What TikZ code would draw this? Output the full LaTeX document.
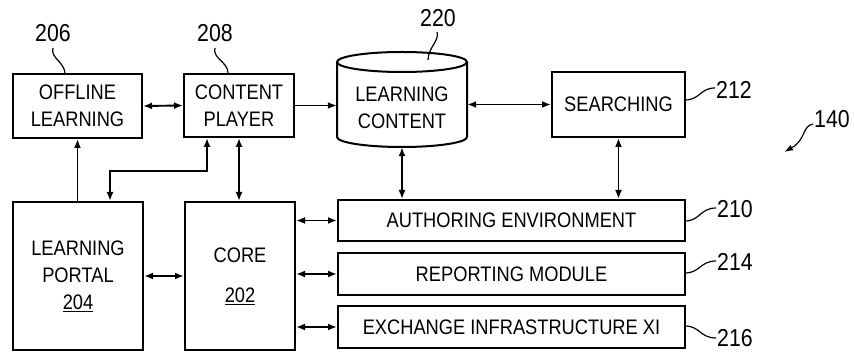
\documentclass[tikz,border=0pt]{standalone}
\usepackage{fontspec}
\setmainfont{Liberation Sans}[FakeStretch=0.87]
\usetikzlibrary{arrows.meta}
\begin{document}
\begin{tikzpicture}[x=1pt,y=-1pt,
  box/.style={draw, line width=2pt, inner sep=0pt, align=center, font=\fontsize{21}{27}\selectfont},
  txt/.style={inner sep=0pt, align=center, font=\fontsize{21}{27}\selectfont},
  lbl/.style={inner sep=0pt, font=\fontsize{24.5}{24}\selectfont},
  tip/.tip={Latex[length=9pt,width=7pt]},
  conn/.style={line width=1.9pt, tip-tip},
  conr/.style={line width=1.9pt, -tip},
  lead/.style={line width=1.2pt}]
\useasboundingbox (0,0) rectangle (854,352);
% boxes
\node[box, minimum width=129pt, minimum height=64pt] (offline) at (77.5,106) {OFFLINE\\LEARNING};
\node[box, minimum width=110pt, minimum height=63pt] (player) at (239,105.5) {CONTENT\\PLAYER};
\node[box, minimum width=130pt, minimum height=148pt] (portal) at (78,276) {LEARNING\\PORTAL\\\underline{204}};
\node[box, minimum width=110pt, minimum height=148pt] (core) at (240,276) {CORE\\[13pt]\underline{202}};
\node[box, minimum width=133pt, minimum height=65pt] (search) at (618.5,104.5) {SEARCHING};
\node[box, minimum width=347pt, minimum height=41pt] (author) at (511.5,220.5) {AUTHORING ENVIRONMENT};
\node[box, minimum width=347pt, minimum height=42pt] (report) at (511.5,274) {REPORTING MODULE};
\node[box, minimum width=347pt, minimum height=42pt] (xi) at (511.5,327) {EXCHANGE INFRASTRUCTURE XI};
% cylinder
\node[inner sep=0pt, minimum width=130pt, minimum height=95pt] (lc) at (402,99.5) {};
\draw[line width=2pt] (402,62) ellipse [x radius=65, y radius=10];
\draw[line width=2pt] (337,62) -- (337,137) arc [start angle=180, end angle=0, x radius=65, y radius=10] -- (467,62);
\node[txt] (lct) at (402,108) {LEARNING\\CONTENT};
% connectors
\draw[conn] (offline.east) -- (player.west);
\draw[conr] (player.east) -- (player.east -| lc.west);
\draw[conn] (search.west -| lc.east) -- (search.west);
\draw[conr] (offline.south |- portal.north) -- (offline.south);
\draw[conn] ([xshift=-32pt]player.south) -- ++(0,33) -| ([xshift=32pt]portal.north);
\draw[conn] (player.south) -- (player.south |- core.north);
\draw[conn] (portal.east) -- (portal.east -| core.west);
\draw[conn] (core.east |- author.west) -- (author.west);
\draw[conn] (core.east |- report.west) -- (report.west);
\draw[conn] (core.east |- xi.west) -- (xi.west);
\draw[conn] (lc.south) -- (lc.south |- author.north);
\draw[conn] (search.south) -- (search.south |- author.north);
% labels
\node[lbl] (n206) at (53,33) {206};
\node[lbl] (n208) at (215,33) {208};
\node[lbl] (n220) at (438,18) {220};
\node[lbl] (n212) at (734,90) {212};
\node[lbl] (n210) at (735,209) {210};
\node[lbl] (n214) at (735,262) {214};
\node[lbl] (n216) at (735,338) {216};
\node[lbl] (n140) at (832,119) {140};
\draw[lead] (53,48) .. controls (50,58) and (65,62) .. (65,74);
\draw[lead] (215,48) .. controls (212,58) and (228,62) .. (228,73);
\draw[lead] (437,32) .. controls (440,40) and (428,48) .. (428,60);
\draw[lead] (685,100) .. controls (700,100) and (700,88) .. (715,88);
\draw[lead] (685,221) .. controls (700,221) and (700,208) .. (716,208);
\draw[lead] (685,273) .. controls (700,273) and (700,261) .. (716,261);
\draw[lead] (685,326) .. controls (700,326) and (700,338) .. (716,338);
\draw[lead, -{Latex[length=9pt,width=6pt]}] (813,124) .. controls (802,126) and (806,140) .. (784,152);
\end{tikzpicture}
\end{document}
